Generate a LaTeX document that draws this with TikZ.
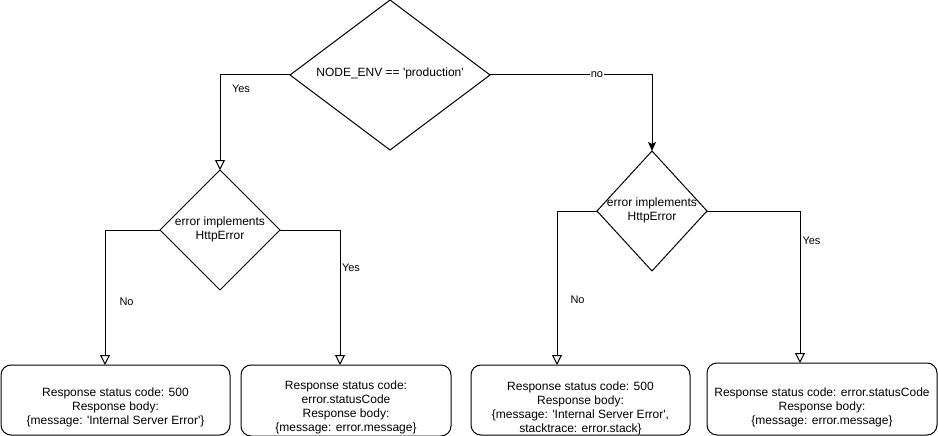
\documentclass[tikz,border=0pt]{standalone}
\usepackage{fontspec}
\setmainfont{Liberation Sans}
\usetikzlibrary{shapes.geometric,arrows.meta}

\tikzset{
  decision/.style={diamond, draw, line width=1pt, inner sep=0pt, outer sep=0pt},
  respbox/.style={rectangle, draw, line width=1pt, rounded corners=10pt, outer sep=0pt},
  bodytext/.style={align=center, inner sep=0pt, font=\fontsize{12}{14}\selectfont},
  edgelabel/.style={inner sep=0pt, font=\fontsize{11}{13}\selectfont},
  openarrow/.style={line width=1pt, -{Triangle[open, length=10pt, width=10pt]}},
  filledarrow/.style={line width=1pt, -{Stealth[length=9pt, width=8pt, inset=2pt]}}
}

\begin{document}
\begin{tikzpicture}[x=1pt, y=-1pt]
    \useasboundingbox (0,0) rectangle (938,436);

    % Decisions
    \node[decision, minimum width=200pt, minimum height=150pt] (env) at (390,75) {};
    \node[bodytext] (envtxt) at (390,73) {NODE\_ENV == \textquotesingle production\textquotesingle};
    \node[decision, minimum width=120pt, minimum height=120pt] (httpL) at (220,230) {};
    \node[bodytext] (httpLtxt) at (220,229) {error implements\\HttpError};
    \node[decision, minimum width=110pt, minimum height=120pt] (httpR) at (652,211) {};
    \node[bodytext] (httpRtxt) at (652,210) {error implements\\HttpError};

    % Responses
    \node[respbox, minimum width=229pt, minimum height=70pt] (resA) at (115.5,400) {};
    \node[bodytext] (resAtxt) at (115.5,407) {Response status code: 500\\Response body:\\\{message: \textquotesingle Internal Server Error\textquotesingle\}};
    \node[respbox, minimum width=210pt, minimum height=71pt] (resB) at (346,400.5) {};
    \node[bodytext] (resBtxt) at (346,407.5) {Response status code:\\error.statusCode\\Response body:\\\{message: error.message\}};
    \node[respbox, minimum width=219pt, minimum height=70pt] (resC) at (580.5,400) {};
    \node[bodytext] (resCtxt) at (580.5,408) {Response status code: 500\\Response body:\\\{message: \textquotesingle Internal Server Error\textquotesingle,\\stacktrace: error.stack\}};
    \node[respbox, minimum width=230pt, minimum height=72pt] (resD) at (822,399) {};
    \node[bodytext] (resDtxt) at (822,407) {Response status code: error.statusCode\\Response body:\\\{message: error.message\}};

    % Connectors
    \draw[openarrow] (env.west) -| (httpL.north)
        node[edgelabel, pos=0.57, right=11.5pt] (lyes1) {Yes};
    \draw[filledarrow] (env.east) -| (httpR.north)
        node[edgelabel, pos=0.33, fill=white, inner xsep=1pt] (lno1) {no};
    \draw[openarrow] (httpL.west) -| ([xshift=-10.5pt]resA.north)
        node[edgelabel, pos=0.767, right=14pt] (lno2) {No};
    \draw[openarrow] (httpL.east) -| ([xshift=-6pt]resB.north)
        node[edgelabel, pos=0.641, right=1.5pt] (lyes2) {Yes};
    \draw[openarrow] (httpR.west) -| ([xshift=-23.5pt]resC.north)
        node[edgelabel, pos=0.789, right=13pt] (lno3) {No};
    \draw[openarrow] (httpR.east) -| ([xshift=-22pt]resD.north)
        node[edgelabel, pos=0.599, right=2pt] (lyes3) {Yes};
\end{tikzpicture}
\end{document}
